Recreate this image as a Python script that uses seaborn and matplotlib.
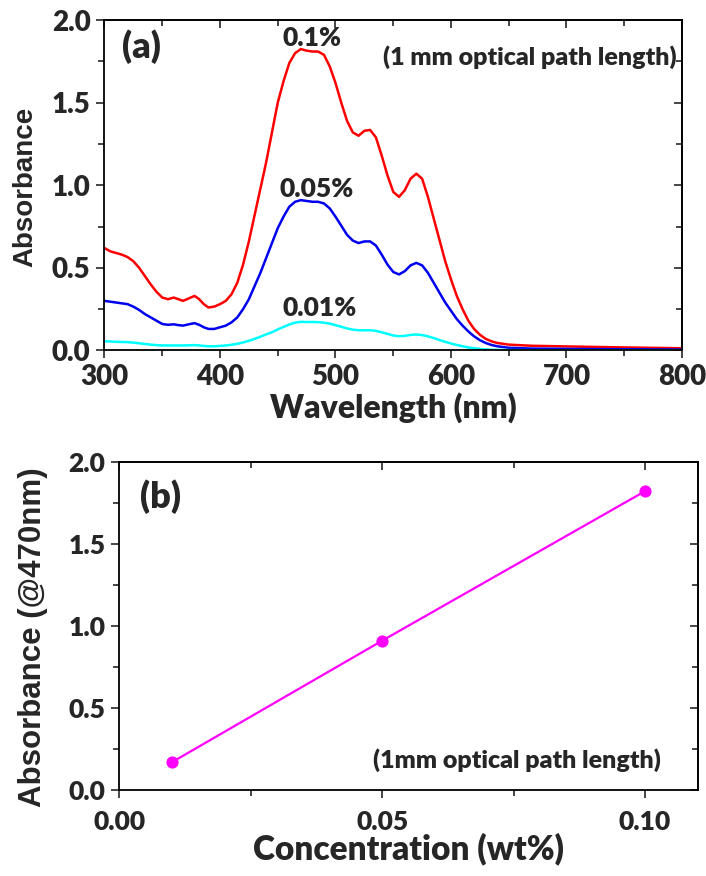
import numpy as np
import pandas as pd
import matplotlib
matplotlib.use("Agg")
import matplotlib.pyplot as plt
from matplotlib.ticker import MultipleLocator
from matplotlib.font_manager import FontProperties
import seaborn as sns

# --- panel (a): absorbance spectra ---
wl = [300, 305, 310, 315, 320, 325, 330, 335, 340, 345, 350, 355, 360, 364, 368, 373, 378, 382,
      386, 390, 395, 400, 405, 410, 415, 420, 425, 430, 435, 440, 445, 450, 455, 460, 465, 470,
      475, 480, 485, 490, 495, 500, 505, 510, 515, 520, 525, 530, 535, 540, 545, 550, 555, 560,
      565, 570, 575, 580, 585, 590, 595, 600, 605, 610, 615, 620, 625, 630, 635, 640, 650, 670,
      700, 750, 800]
abs_01 = [.62, .60, .59, .58, .565, .54, .50, .45, .40, .355, .32, .31, .32, .31, .30, .315, .33, .31,
          .28, .26, .265, .28, .30, .34, .41, .52, .66, .82, .98, 1.14, 1.32, 1.50, 1.63, 1.74, 1.80, 1.825,
          1.815, 1.81, 1.81, 1.79, 1.72, 1.62, 1.50, 1.39, 1.32, 1.30, 1.33, 1.335, 1.29, 1.18, 1.06, .96, .93, .97,
          1.04, 1.07, 1.04, .93, .80, .67, .54, .43, .33, .25, .18, .13, .095, .07, .055, .045, .035, .028,
          .024, .018, .013]
abs_005 = [.30, .295, .29, .285, .28, .265, .245, .22, .20, .18, .16, .155, .158, .153, .15, .158, .165, .155,
           .14, .13, .13, .14, .15, .17, .20, .25, .31, .39, .47, .56, .65, .74, .81, .87, .90, .91,
           .905, .90, .90, .89, .86, .81, .755, .70, .665, .65, .66, .66, .635, .58, .52, .475, .46, .48,
           .515, .53, .515, .47, .41, .35, .29, .24, .19, .15, .115, .085, .062, .045, .033, .025, .016, .011,
           .009, .007, .005]
abs_001 = [.055, .054, .052, .051, .05, .047, .043, .039, .035, .032, .03, .03, .03, .03, .03, .031, .032, .03,
           .027, .025, .025, .027, .03, .034, .04, .048, .058, .07, .083, .097, .11, .127, .142, .157, .168, .173,
           .172, .172, .171, .168, .162, .153, .143, .133, .126, .122, .122, .122, .118, .11, .10, .09, .086, .088,
           .094, .096, .093, .085, .075, .063, .052, .042, .033, .025, .018, .013, .009, .006, .004, .003, .002, .001,
           0, 0, 0]
series_names = ["0.1%", "0.05%", "0.01%"]
series_colors = ["#ff0000", "#0000ee", "#00ffff"]

# --- panel (b): absorbance at 470 nm vs concentration ---
conc = [0.01, 0.05, 0.10]
abs_470 = [0.17, 0.91, 1.82]

sns.set_style("ticks")
CAL = ["Lato", "DejaVu Sans"]
plt.rcParams["font.family"] = CAL
W = "heavy"


def arial(size):
    return FontProperties(family="Liberation Sans", weight="bold", size=size)


fig = plt.figure(figsize=(7.06, 8.76), dpi=100)
ax1 = fig.add_axes([0.148, 0.600, 0.818, 0.377])
ax2 = fig.add_axes([0.169, 0.098, 0.819, 0.375])


def style_axes(ax, xmaj, xmin, ymaj, ymin, size):
    ax.xaxis.set_major_locator(MultipleLocator(xmaj))
    ax.xaxis.set_minor_locator(MultipleLocator(xmin))
    ax.yaxis.set_major_locator(MultipleLocator(ymaj))
    ax.yaxis.set_minor_locator(MultipleLocator(ymin))
    ax.tick_params(which="major", direction="out", length=6, width=1.2, labelsize=size, pad=4)
    ax.tick_params(which="minor", direction="out", length=4, width=1.2)
    for s in ax.spines.values():
        s.set_linewidth(1.3)
        s.set_visible(True)
        s.set_color("black")
    for lab in ax.get_xticklabels() + ax.get_yticklabels():
        lab.set_fontweight(W)
    top = ax.secondary_xaxis("top")
    top.xaxis.set_major_locator(MultipleLocator(xmaj))
    top.xaxis.set_minor_locator(MultipleLocator(xmin))
    top.tick_params(which="major", direction="in", length=6, width=1.2, labeltop=False)
    top.tick_params(which="minor", direction="in", length=4, width=1.2)
    right = ax.secondary_yaxis("right")
    right.yaxis.set_major_locator(MultipleLocator(ymaj))
    right.yaxis.set_minor_locator(MultipleLocator(ymin))
    right.tick_params(which="major", direction="in", length=6, width=1.2, labelright=False)
    right.tick_params(which="minor", direction="in", length=4, width=1.2)
    for sec in (top, right):
        for s in sec.spines.values():
            s.set_linewidth(1.3)


# panel (a)
df = pd.DataFrame({"wl": wl * 3,
                   "A": abs_01 + abs_005 + abs_001,
                   "conc": sum([[n] * len(wl) for n in series_names], [])})
sns.lineplot(data=df, x="wl", y="A", hue="conc", palette=series_colors,
             hue_order=series_names, linewidth=1.8, legend=False, ax=ax1, sort=False)
ax1.set_xlim(300, 800)
ax1.set_ylim(0, 2.0)
style_axes(ax1, 100, 50, 0.5, 0.25, 20)
ax1.set_xlabel("Wavelength (nm)", fontsize=23, fontweight=W, family=CAL, va="top")
ax1.xaxis.set_label_coords(0.5, -0.125)
ax1.set_ylabel("")
ax1.text(-0.137, 0.494, "Absorbance", transform=ax1.transAxes, rotation=90,
         ha="center", va="center", fontproperties=arial(20))
ax1.text(0.03, 0.92, "(a)", transform=ax1.transAxes, fontsize=26, fontweight=W,
         family=CAL, ha="left", va="center")
ax1.text(0.99, 0.888, "(1 mm optical path length)", transform=ax1.transAxes, fontsize=18,
         fontweight=W, family=CAL, ha="right", va="center")
ax1.text(480, 1.89, "0.1%", fontsize=19, fontweight=W, family=CAL, ha="center", va="center")
ax1.text(484, 0.98, "0.05%", fontsize=19, fontweight=W, family=CAL, ha="center", va="center")
ax1.text(486, 0.255, "0.01%", fontsize=19, fontweight=W, family=CAL, ha="center", va="center")

# panel (b)
sns.lineplot(x=conc, y=abs_470, color="#ff00ff", linewidth=1.6, marker="o",
             markersize=8, markeredgecolor="#ff00ff", ax=ax2)
ax2.set_xlim(0, 0.11)
ax2.set_ylim(0, 2.0)
style_axes(ax2, 0.05, 0.025, 0.5, 0.25, 19)
ax2.set_xticks([0.0, 0.05, 0.10])
ax2.set_xticklabels(["0.00", "0.05", "0.10"], fontweight=W)
ax2.tick_params(axis="x", which="major", pad=8)
ax2.set_xlabel("Concentration (wt%)", fontsize=24, fontweight=W, family=CAL, va="top")
ax2.xaxis.set_label_coords(0.5, -0.13)
ax2.set_ylabel("")
ax2.text(-0.150, 0.466, "Absorbance (@470nm)", transform=ax2.transAxes, rotation=90,
         ha="center", va="center", fontproperties=arial(22.5))
ax2.text(0.036, 0.893, "(b)", transform=ax2.transAxes, fontsize=26, fontweight=W,
         family=CAL, ha="left", va="center")
ax2.text(0.936, 0.091, "(1mm optical path length)", transform=ax2.transAxes, fontsize=18,
         fontweight=W, family=CAL, ha="right", va="center")

fig.savefig("out.png", dpi=100)
